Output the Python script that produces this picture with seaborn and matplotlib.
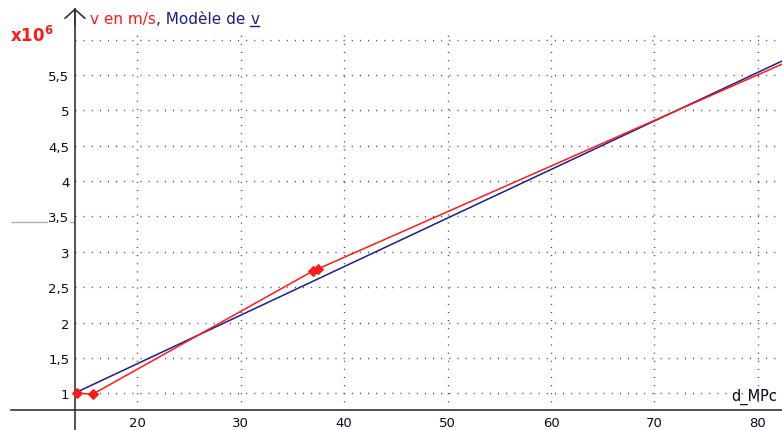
import numpy as np
import pandas as pd
import matplotlib
matplotlib.use("Agg")
import matplotlib.pyplot as plt
import seaborn as sns

# ---- data (v in units of 1e6 m/s, d in Mpc) ----
d_mpc = [14.2, 15.75, 37.0, 37.5, 90.0]
v_ms = [1.00, 0.99, 2.73, 2.76, 6.15]
model_d = [14.0, 84.0]
model_v = [1.004, 5.813]
xticks = [20, 30, 40, 50, 60, 70, 80]
xtick_labels = ["20", "30", "40", "50", "60", "70", "80"]
yticks = [1, 1.5, 2, 2.5, 3, 3.5, 4, 4.5, 5, 5.5]
ytick_labels = ["1", "1,5", "2", "2,5", "3", "3,5", "4", "4,5", "5", "5,5"]
grid_y = [1, 1.5, 2, 2.5, 3, 3.5, 4, 4.5, 5, 5.5, 6]

RED = "#ff1a1a"
BLUE = "#1c1c8c"
TXT = "#0a0a22"

W, H = 782, 431
fig = plt.figure(figsize=(W / 100, H / 100), dpi=100)
ax = fig.add_axes([0, 0, 1, 1])
ax.set_facecolor("white")

x_axis_pos = 14.0
y_axis_pos = 0.768
xmin, xmax = 6.76, 82.32
ymin, ymax = 0.481, 6.575
ax.set_xlim(xmin, xmax)
ax.set_ylim(ymin, ymax)

# dotted grid
dot = dict(color="#404040", lw=1.0, linestyle=(0, (0.75, 5.1)), zorder=1)
ax.vlines(xticks, y_axis_pos, 6.08, **dot)
ax.hlines(grid_y, x_axis_pos, xmax, **dot)

# stray gray line on the left
ax.hlines(3.42, 7.82, x_axis_pos, color="#b0b0b0", lw=1.0, zorder=1)

# data lines
df = pd.DataFrame({"d": d_mpc, "v": v_ms})
dm = pd.DataFrame({"d": model_d, "v": model_v})
sns.lineplot(data=dm, x="d", y="v", ax=ax, color=BLUE, lw=1.1, estimator=None, sort=False, zorder=3)
sns.lineplot(data=df, x="d", y="v", ax=ax, color=RED, lw=1.1, marker="D", markersize=5,
             markeredgecolor=RED, estimator=None, sort=False, zorder=4)
ax.set_xlabel("")
ax.set_ylabel("")

# axes spines
for s in ["top", "right"]:
    ax.spines[s].set_visible(False)
ax.spines["left"].set_position(("data", x_axis_pos))
ax.spines["bottom"].set_position(("data", y_axis_pos))
ax.spines["left"].set_bounds(ymin, 6.43)
ax.spines["bottom"].set_bounds(7.82, xmax)
for s in ["left", "bottom"]:
    ax.spines[s].set_color("#333333")
    ax.spines[s].set_linewidth(1.2)
    ax.spines[s].set_zorder(2)

ax.annotate("", xy=(x_axis_pos, 6.445), xytext=(x_axis_pos, 6.2),
            arrowprops=dict(arrowstyle="->,head_length=0.65,head_width=0.72",
                            color="#333333", lw=1.2, mutation_scale=10,
                            shrinkA=0, shrinkB=0))

ax.set_xticks(xticks)
ax.set_xticklabels(xtick_labels)
ax.set_yticks(yticks)
ax.set_yticklabels(ytick_labels)
ax.tick_params(axis="both", length=0, labelsize=9.5, labelcolor=TXT)
ax.tick_params(axis="x", pad=4.5)
ax.tick_params(axis="y", pad=4)
for lab in ax.get_yticklabels():
    lab.set_bbox(dict(facecolor="white", edgecolor="none", pad=0.5))

# texts
t1 = fig.text(90 / W, 1 - 24 / H, "v en m/s", color=RED, fontsize=11, va="baseline", ha="left")
t2 = ax.annotate(", Modèle de ", xy=(1, 0), xycoords=t1, va="bottom", ha="left",
                 color=BLUE, fontsize=11)
t3 = ax.annotate("v", xy=(1, 0), xycoords=t2, va="bottom", ha="left",
                 color=BLUE, fontsize=11)
fig.canvas.draw()
bb = t3.get_window_extent()
fig.add_artist(plt.Line2D([bb.x0 / W, bb.x1 / W], [(H - 27) / H, (H - 27) / H],
                          color=BLUE, lw=1.0, transform=fig.transFigure))

fig.text(10 / W, 1 - 42 / H, r"$\mathbf{x10^{6}}$", color=RED, fontsize=12,
         va="baseline", ha="left")
fig.text(731 / W, 1 - 401 / H, "d_MPc", color=TXT, fontsize=10.5, va="baseline", ha="left")

fig.savefig("out.png", dpi=100, facecolor="white")
